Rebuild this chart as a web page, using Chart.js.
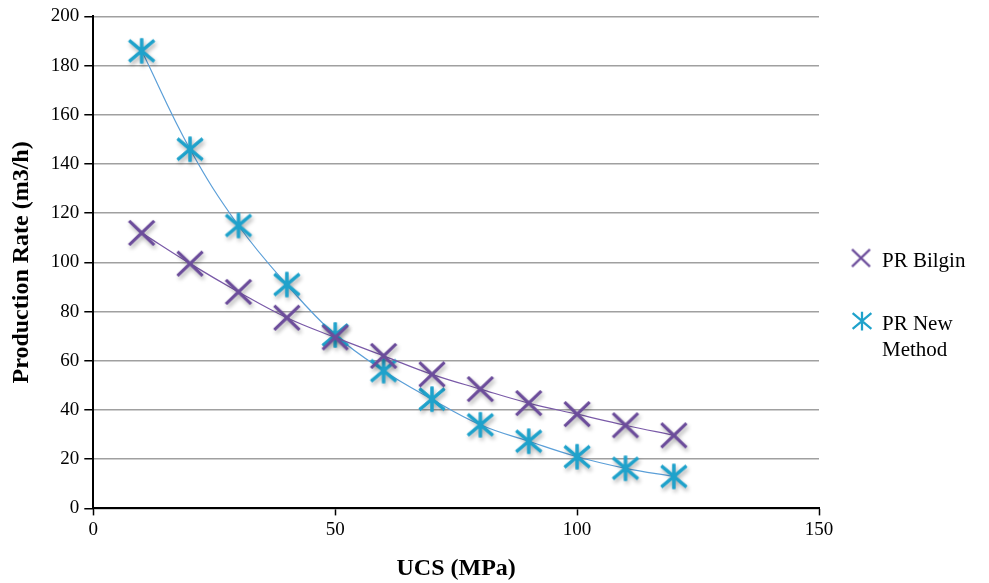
<!DOCTYPE html>
<html>
<head>
<meta charset="utf-8">
<script src="https://cdn.jsdelivr.net/npm/chart.js@4/dist/chart.umd.min.js"></script>
<style>
html,body{margin:0;padding:0;background:#fff;}
#wrap{width:989px;height:583px;position:relative;}
</style>
</head>
<body>
<div id="wrap"><canvas id="c" width="989" height="583"></canvas></div>
<script>
const ucs = [10, 20, 30, 40, 50, 60, 70, 80, 90, 100, 110, 120];
const prBilgin = [112, 99.5, 88, 77.5, 69.5, 62, 54.5, 48.5, 42.8, 38.3, 33.8, 29.7];
const prNewMethod = [186, 146, 115, 91, 70.5, 56, 44.4, 34, 27.3, 21, 16.3, 13];
const seriesNames = ['PR Bilgin', ['PR New', 'Method']];
const xTitle = 'UCS (MPa)';
const yTitle = 'Production Rate (m3/h)';

const purple = '#6c4d9b';
const blue = '#1fa2cb';
const purpleLine = '#7a5aa8';
const blueLine = '#5b9fd8';

function makeMarker(kind, color, scale, shadow) {
  const size = Math.round(40 * scale);
  const c = document.createElement('canvas');
  c.width = size; c.height = size;
  const g = c.getContext('2d');
  g.translate(size / 2, size / 2);
  g.scale(scale, scale);
  g.lineCap = 'butt';
  const path = () => {
    g.beginPath();
    if (kind === 'x') {
      g.moveTo(-12.5, -12); g.lineTo(12.5, 12);
      g.moveTo(-12.5, 12); g.lineTo(12.5, -12);
    } else {
      g.moveTo(0, -12.5); g.lineTo(0, 12.5);
      g.moveTo(-12.5, -10.5); g.lineTo(12.5, 10.5);
      g.moveTo(-12.5, 10.5); g.lineTo(12.5, -10.5);
    }
  };
  if (shadow) {
    g.save();
    g.shadowColor = 'rgba(0,0,0,0.35)';
    g.shadowBlur = 4;
    g.shadowOffsetX = 1.5;
    g.shadowOffsetY = 3;
    g.strokeStyle = color;
    g.lineWidth = 3;
    path(); g.stroke();
    g.restore();
  }
  g.strokeStyle = color;
  g.lineWidth = 3;
  path(); g.stroke();
  return c;
}

const markX = makeMarker('x', purple, 1, true);
const markStar = makeMarker('star', blue, 1, true);
const legX = makeMarker('x', purple, 0.72, false);
const legStar = makeMarker('star', blue, 0.75, false);

const legendPlugin = {
  id: 'customLegend',
  afterDraw(chart) {
    const ctx = chart.ctx;
    const items = [
      {x: 861, y: 258, img: legX, text: seriesNames[0]},
      {x: 862, y: 321, img: legStar, text: seriesNames[1]}
    ];
    ctx.save();
    ctx.font = '21px "Liberation Serif", "Times New Roman", serif';
    ctx.textBaseline = 'middle';
    ctx.fillStyle = '#000';
    items.forEach(it => {
      ctx.drawImage(it.img, it.x - it.img.width / 2, it.y - it.img.height / 2);
      const lines = Array.isArray(it.text) ? it.text : [it.text];
      lines.forEach((l, i) => ctx.fillText(l, 882, it.y + 3 + i * 26));
    });
    ctx.restore();
  }
};

new Chart(document.getElementById('c'), {
  type: 'scatter',
  data: {
    datasets: [
      {
        label: 'PR Bilgin',
        data: ucs.map((x, i) => ({x: x, y: prBilgin[i]})),
        showLine: true,
        tension: 0.4,
        borderColor: purpleLine,
        borderWidth: 1.2,
        pointStyle: markX,
        pointRadius: 12
      },
      {
        label: 'PR New Method',
        data: ucs.map((x, i) => ({x: x, y: prNewMethod[i]})),
        showLine: true,
        tension: 0.4,
        borderColor: blueLine,
        borderWidth: 1.2,
        pointStyle: markStar,
        pointRadius: 12
      }
    ]
  },
  options: {
    responsive: false,
    animation: false,
    layout: {padding: {left: 7, right: 170, top: 11, bottom: 0}},
    plugins: {
      legend: {display: false},
      tooltip: {enabled: false}
    },
    scales: {
      x: {
        type: 'linear',
        min: 0, max: 150,
        ticks: {stepSize: 50, color: '#000', font: {family: '"Liberation Serif", serif', size: 19}, padding: 3},
        grid: {drawOnChartArea: false, tickLength: 7, tickColor: '#000', tickWidth: 1.5},
        border: {color: '#000', width: 2},
        title: {display: true, text: xTitle, color: '#000', font: {family: '"Liberation Serif", serif', size: 24, weight: 'bold'}, padding: {top: 10, bottom: 0}}
      },
      y: {
        min: 0, max: 200,
        ticks: {stepSize: 20, color: '#000', font: {family: '"Liberation Serif", serif', size: 19}, padding: 5},
        grid: {color: '#a0a0a0', lineWidth: 1.5, tickLength: 9, tickColor: '#000', tickWidth: 1.5},
        border: {color: '#000', width: 2},
        title: {display: true, text: yTitle, color: '#000', font: {family: '"Liberation Serif", serif', size: 24, weight: 'bold'}, padding: {top: 0, bottom: 10}}
      }
    }
  },
  plugins: [legendPlugin]
});
</script>
</body>
</html>
